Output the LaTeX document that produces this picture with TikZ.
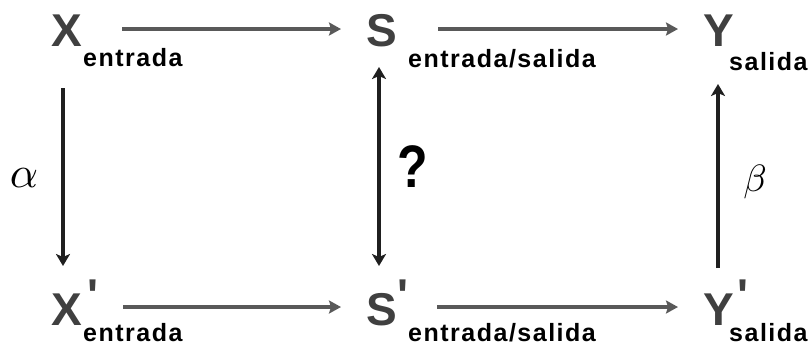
\documentclass[tikz,border=0pt]{standalone}
\usepackage{fontspec}
\usetikzlibrary{arrows.meta}
\newfontfamily\arialf{Liberation Sans}
\newfontfamily\arialsub{Liberation Sans}[LetterSpace=6]
\begin{document}
\begin{tikzpicture}[x=1pt,y=-1pt,
  big/.style={inner sep=0pt,anchor=base west,text=black!75,font=\arialf\bfseries\fontsize{46}{46}\selectfont},
  prm/.style={inner sep=0pt,anchor=north west,text=black!75,font=\arialf\bfseries\fontsize{46}{46}\selectfont},
  sub/.style={inner sep=0pt,anchor=base west,text=black,font=\arialsub\bfseries\fontsize{25}{25}\selectfont},
  harr/.style={line width=4.4pt,draw=black!65,-{Stealth[length=12pt,width=13pt,inset=2pt]}},
  varr/.style={line width=3.2pt,draw=black!88,-{Stealth[length=12pt,width=14pt,inset=3pt]}},
  dvarr/.style={line width=3.2pt,draw=black!88,{Stealth[length=12pt,width=14pt,inset=3pt]}-{Stealth[length=12pt,width=14pt,inset=3pt]}},
  lbl/.style={inner sep=0pt,text=black}]
\useasboundingbox (0,0) rectangle (811,349);
% top row
\node[big] (X) at (51,46) {X};
\node[sub] (Xs) at (83,66) {entrada};
\node[big] (S) at (366,46) {S};
\node[sub] (Ss) at (408,67) {entrada/salida};
\node[big] (Y) at (703,46) {Y};
\node[sub] (Ys) at (729,70) {salida};
% bottom row
\node[big] (X2) at (51,325) {X};
\node[prm] (X2p) at (87,280) {'};
\node[sub] (X2s) at (83,341) {entrada};
\node[big] (S2) at (366,325) {S};
\node[prm] (S2p) at (397,280) {'};
\node[sub] (S2s) at (408,341) {entrada/salida};
\node[big] (Y2) at (703,325) {Y};
\node[prm] (Y2p) at (737,280) {'};
\node[sub] (Y2s) at (729,341) {salida};
% labels
\node[lbl] (al) at (24,178) {\scalebox{4.4}{$\alpha$}};
\node[lbl] (be) at (755,182) {\scalebox{3.8}{$\beta$}};
\node[lbl,font=\arialf\bfseries\fontsize{50}{50}\selectfont] (q) at (413,167) {\scalebox{1}[1.2]{?}};
% connector ends
\coordinate (t1a) at (122,29); \coordinate (t1b) at (341,29);
\coordinate (t2a) at (438,29); \coordinate (t2b) at (678,29);
\coordinate (b1a) at (123,307); \coordinate (b1b) at (341,307);
\coordinate (b2a) at (437,307); \coordinate (b2b) at (678,307);
\coordinate (l1) at (63,88); \coordinate (l2) at (63,266);
\coordinate (m1) at (379,67); \coordinate (m2) at (379,266);
\coordinate (r1) at (718,268); \coordinate (r2) at (718,84);
\draw[harr] (t1a) -- (t1b);
\draw[harr] (t2a) -- (t2b);
\draw[harr] (b1a) -- (b1b);
\draw[harr] (b2a) -- (b2b);
\draw[varr] (l1) -- (l2);
\draw[dvarr] (m1) -- (m2);
\draw[varr] (r1) -- (r2);
\end{tikzpicture}
\end{document}
